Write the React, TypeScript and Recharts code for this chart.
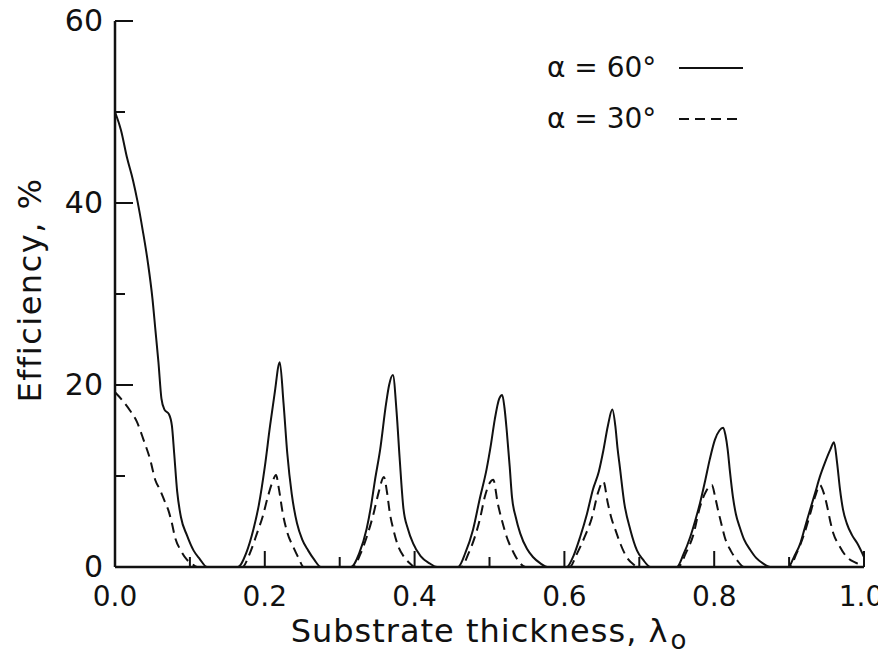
import React from 'react';
import { LineChart, Line, XAxis, YAxis } from 'recharts';

// substrate thickness (x) and efficiency (%)
const thickness60 = [
  0, 0.008, 0.016, 0.024, 0.03, 0.037, 0.044, 0.05, 0.054, 0.058, 0.062, 0.066, 0.072, 0.076, 0.079, 0.083, 0.088, 0.096, 0.105, 0.113, 0.123,
  0.164, 0.175, 0.185, 0.192, 0.2, 0.207, 0.213, 0.22, 0.225, 0.23, 0.236, 0.243, 0.25, 0.258, 0.266, 0.275,
  0.315, 0.326, 0.336, 0.342, 0.347, 0.354, 0.362, 0.366, 0.371, 0.376, 0.38, 0.385, 0.391, 0.398, 0.408, 0.42, 0.43,
  0.458, 0.468, 0.478, 0.487, 0.496, 0.502, 0.507, 0.513, 0.517, 0.52, 0.523, 0.527, 0.53, 0.535, 0.541, 0.55, 0.558, 0.568, 0.577,
  0.603, 0.612, 0.621, 0.63, 0.638, 0.646, 0.652, 0.658, 0.664, 0.668, 0.671, 0.674, 0.68, 0.688, 0.697, 0.705, 0.715,
  0.75, 0.759, 0.768, 0.775, 0.781, 0.788, 0.794, 0.801, 0.807, 0.812, 0.815, 0.818, 0.821, 0.825, 0.829, 0.834, 0.84, 0.848, 0.856, 0.865, 0.875,
  0.899, 0.907, 0.915, 0.921, 0.928, 0.935, 0.941, 0.948, 0.955, 0.96, 0.964, 0.968, 0.972, 0.977, 0.984, 0.991, 1.0,
];
const eff60 = [
  50, 48, 45, 42.5, 40.2, 37, 33.4, 29.5, 26, 22.5, 18.5, 17.3, 16.8, 15.5, 12.5, 8.3, 5.5, 3.5, 1.8, 0.9, 0,
  0, 1.5, 4.2, 6.8, 11, 15.5, 19, 22.5, 18, 12.5, 8, 4.8, 3, 1.8, 0.8, 0,
  0, 1.5, 4.2, 6.8, 9.5, 12.9, 18, 20, 21.1, 17, 12, 6.5, 4.2, 2.6, 1.2, 0.4, 0,
  0, 1.6, 4.1, 7.5, 10.7, 13.5, 16.2, 18.5, 18.9, 17.5, 15, 11, 7.7, 5.5, 3.7, 2, 1.1, 0.4, 0,
  0, 1.2, 3.3, 5.8, 8.5, 10.5, 12.8, 15.5, 17.3, 15.5, 13, 11, 7, 4.1, 1.8, 0.8, 0,
  0, 1.4, 3.3, 5.2, 7, 9.5, 11.8, 14, 15, 15.3, 14.5, 12.9, 10.5, 7.7, 5.8, 4.4, 3, 1.9, 1, 0.4, 0,
  0, 1.2, 2.6, 4.3, 6.3, 8.2, 9.9, 11.5, 12.9, 13.7, 11.5, 8.5, 6.3, 4.8, 3.5, 2.6, 1.1,
];

const thickness30 = [
  0, 0.01, 0.02, 0.029, 0.038, 0.047, 0.054, 0.06, 0.066, 0.071, 0.076, 0.08, 0.088, 0.096, 0.105, 0.11,
  0.17, 0.18, 0.19, 0.197, 0.204, 0.21, 0.215, 0.219, 0.224, 0.23, 0.238, 0.245, 0.252,
  0.318, 0.328, 0.338, 0.345, 0.352, 0.359, 0.363, 0.367, 0.372, 0.378, 0.386, 0.395, 0.4,
  0.462, 0.472, 0.48, 0.487, 0.494, 0.5, 0.505, 0.511, 0.517, 0.523, 0.532, 0.541, 0.548,
  0.607, 0.617, 0.627, 0.637, 0.645, 0.652, 0.658, 0.663, 0.668, 0.675, 0.683, 0.692, 0.698,
  0.752, 0.762, 0.772, 0.781, 0.789, 0.797, 0.801, 0.805, 0.81, 0.814, 0.822, 0.83, 0.84,
  0.9, 0.91, 0.92, 0.928, 0.935, 0.941, 0.946, 0.951, 0.955, 0.959, 0.966, 0.977, 0.988, 1.0,
];
const eff30 = [
  19.2, 18.3, 17.2, 16, 14, 11.8, 9.5, 8.5, 7.3, 6.3, 4.8, 3.3, 1.8, 0.8, 0.2, 0,
  0, 1.5, 3.8, 5.5, 7.7, 9.3, 10.1, 8.5, 5.9, 3.8, 2.2, 1, 0,
  0, 1.5, 3.8, 5.8, 8.2, 9.9, 8.3, 5.9, 4, 2.3, 1.1, 0.3, 0,
  0, 1.5, 3.2, 5.2, 7.8, 9.2, 9.6, 7, 5, 3.3, 1.6, 0.4, 0,
  0, 1.5, 3.3, 5.5, 8.2, 9.4, 7, 5.3, 4.1, 2.5, 1.1, 0.3, 0,
  0, 1.5, 3.5, 6.6, 8.3, 9, 7.8, 6.3, 4.6, 3.3, 1.8, 0.8, 0,
  0, 1.5, 3.6, 5.8, 7.8, 9, 8.2, 6.6, 5, 3.7, 2.5, 1.1, 0.5, 0.2,
];

const xTicks = [0, 0.1, 0.2, 0.3, 0.4, 0.5, 0.6, 0.7, 0.8, 0.9, 1.0];
const yTicks = [0, 10, 20, 30, 40, 50, 60];

const series60 = thickness60.map((x, i) => ({ x, y: eff60[i] }));
const series30 = thickness30.map((x, i) => ({ x, y: eff30[i] }));

const INK = '#111';
const FONT = '"DejaVu Sans", sans-serif';

const isMajorX = (v: number) => Math.round(v * 10) % 2 === 0;

const BottomTick = (props: any) => {
    const { x, y, payload } = props;
    const major = isMajorX(payload.value);
    // the last label would run off the right edge, nudge it in a bit
    const dx = payload.value === 1 ? -3 : 0;
    return (
        <g>
            <line x1={x} x2={x} y1={y} y2={y - (major ? 16 : 10)} stroke={INK} strokeWidth={2} />
            {major && (
                <text x={x + dx} y={y + 39} textAnchor="middle" fontSize={28} fontFamily={FONT} fill={INK}>
                    {payload.value.toFixed(1)}
                </text>
            )}
        </g>
    );
};

const TopTick = (props: any) => {
    const { x, y, payload } = props;
    const major = isMajorX(payload.value);
    return <line x1={x} x2={x} y1={y} y2={y + (major ? 16 : 10)} stroke={INK} strokeWidth={2} />;
};

const LeftTick = (props: any) => {
    const { x, y, payload } = props;
    const major = payload.value % 20 === 0;
    return (
        <g>
            <line x1={x} x2={x + (major ? 18 : 10)} y1={y} y2={y} stroke={INK} strokeWidth={2} />
            {major && (
                <text x={x - 12} y={y + 10} textAnchor="end" fontSize={30} fontFamily={FONT} fill={INK}>
                    {payload.value}
                </text>
            )}
        </g>
    );
};

const RightTick = (props: any) => {
    const { x, y, payload } = props;
    const major = payload.value % 20 === 0;
    return <line x1={x} x2={x - (major ? 18 : 10)} y1={y} y2={y} stroke={INK} strokeWidth={2} />;
};

const legendRows = [
    { label: 'α = 60°', dash: undefined },
    { label: 'α = 30°', dash: '10 6' },
];

export default function App() {
    const axisLine = { stroke: INK, strokeWidth: 2.5 };
    return (
        <div style={{ position: 'relative', width: 886, height: 665, margin: '-8px 0 0 -8px', background: '#fff' }}>
            <LineChart width={886} height={665} margin={{ top: 21, right: 22, left: 55, bottom: 38 }}>
                <XAxis
                    type="number"
                    dataKey="x"
                    domain={[0, 1]}
                    ticks={xTicks}
                    interval={0}
                    height={60}
                    axisLine={axisLine}
                    tickLine={false}
                    tickSize={0}
                    tickMargin={0}
                    tick={<BottomTick />}
                    allowDataOverflow
                />
                <XAxis
                    xAxisId="top"
                    orientation="top"
                    type="number"
                    dataKey="x"
                    domain={[0, 1]}
                    ticks={xTicks}
                    interval={0}
                    height={0}
                    axisLine={axisLine}
                    tickLine={false}
                    tickSize={0}
                    tickMargin={0}
                    tick={<TopTick />}
                />
                <YAxis
                    type="number"
                    domain={[0, 60]}
                    ticks={yTicks}
                    interval={0}
                    width={60}
                    axisLine={axisLine}
                    tickLine={false}
                    tickSize={0}
                    tickMargin={0}
                    tick={<LeftTick />}
                    allowDataOverflow
                />
                <YAxis
                    yAxisId="right"
                    orientation="right"
                    type="number"
                    domain={[0, 60]}
                    ticks={yTicks}
                    interval={0}
                    width={0}
                    axisLine={axisLine}
                    tickLine={false}
                    tickSize={0}
                    tickMargin={0}
                    tick={<RightTick />}
                />
                <Line
                    data={series60}
                    dataKey="y"
                    name="α = 60°"
                    type="monotone"
                    stroke={INK}
                    strokeWidth={2}
                    dot={false}
                    activeDot={false}
                    isAnimationActive={false}
                />
                <Line
                    data={series30}
                    dataKey="y"
                    name="α = 30°"
                    type="monotone"
                    stroke={INK}
                    strokeWidth={2}
                    strokeDasharray="10 6"
                    dot={false}
                    activeDot={false}
                    isAnimationActive={false}
                />
            </LineChart>
            <div style={{ position: 'absolute', left: 547, top: 42, fontFamily: FONT, fontSize: 28, color: INK }}>
                {legendRows.map((r) => (
                    <div key={r.label} style={{ display: 'flex', alignItems: 'center', height: 51 }}>
                        <span style={{ width: 132, whiteSpace: 'nowrap' }}>{r.label}</span>
                        <svg width={64} height={6}>
                            <line x1={0} x2={64} y1={3} y2={3} stroke={INK} strokeWidth={2} strokeDasharray={r.dash} />
                        </svg>
                    </div>
                ))}
            </div>
            <div
                style={{
                    position: 'absolute', left: 0, top: 615, width: 978, textAlign: 'center',
                    fontFamily: FONT, fontSize: 32, letterSpacing: 1, color: INK, whiteSpace: 'nowrap', lineHeight: '32px',
                }}
            >
                Substrate thickness, λ<span style={{ fontSize: 26, position: 'relative', top: 7, marginLeft: 2 }}>o</span>
            </div>
            <div
                style={{
                    position: 'absolute', left: 30, top: 290, fontFamily: FONT, fontSize: 32, letterSpacing: 1.5,
                    color: INK, whiteSpace: 'nowrap', transform: 'translate(-50%, -50%) rotate(-90deg)',
                }}
            >
                Efficiency, %
            </div>
        </div>
    );
}
